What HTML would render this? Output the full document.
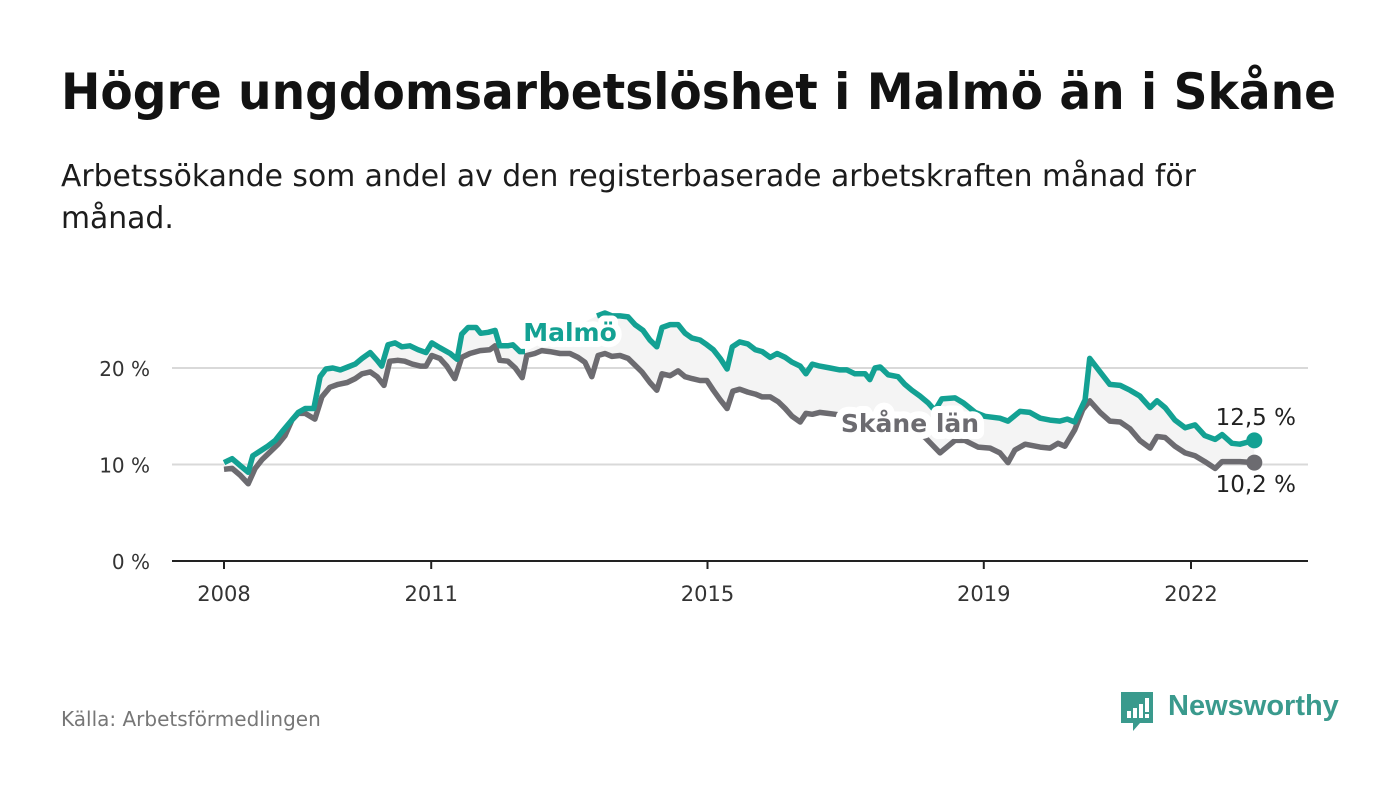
<!DOCTYPE html>
<html><head><meta charset="utf-8">
<style>
body{margin:0;background:#fff;font-family:"DejaVu Sans","Liberation Sans",sans-serif;}
#wrap{position:relative;width:1400px;height:794px;overflow:hidden;background:#fff;}
h1{position:absolute;left:61px;top:63px;margin:0;font-size:50px;font-weight:bold;color:#121212;white-space:nowrap;transform:scaleX(0.942);transform-origin:0 0;}
.sub{position:absolute;left:61px;top:156px;width:1200px;font-size:29.8px;line-height:42px;color:#1c1c1c;}
.src{position:absolute;left:61px;top:707px;font-size:20px;color:#777;}
.logo{position:absolute;left:1118px;top:690px;}
.logo span{position:absolute;left:50px;top:0px;font-family:"Liberation Sans",sans-serif;font-weight:bold;font-size:29px;color:#3a9a8d;white-space:nowrap;}
svg text{font-family:"DejaVu Sans","Liberation Sans",sans-serif;}
</style></head><body>
<div id="wrap">
<h1>Högre ungdomsarbetslöshet i Malmö än i Skåne</h1>
<div class="sub">Arbetssökande som andel av den registerbaserade arbetskraften månad för månad.</div>
<svg id="chart" width="1400" height="794" style="position:absolute;left:0;top:0"></svg>
<div class="src">Källa: Arbetsförmedlingen</div>
<div class="logo">
<svg width="40" height="44"><path d="M3 2 H35 V33 H22 L15 41 L15 33 H3 Z" fill="#3a9a8d"/><rect x="9" y="21" width="4" height="7" fill="#fff"/><rect x="15" y="18" width="4" height="10" fill="#fff"/><rect x="21" y="14" width="4" height="14" fill="#fff"/><rect x="27" y="8" width="4" height="14" fill="#fff"/><rect x="27" y="24" width="4" height="4" fill="#fff"/></svg>
<span>Newsworthy</span></div>
</div>
<script>
const malmoMonths=[0,1.4,2.8,4.2,5,6.3,7.6,8.9,10.1,11.5,12.9,14.1,15.6,16.7,17.7,18.9,20.2,21.5,22.8,24,25.4,26.6,27.4,28.5,29.7,30.9,32.3,33.7,35.1,36.1,37.5,39.3,40.5,41.3,42.4,43.8,44.6,45.9,47.1,47.9,49.3,50.2,51.4,52.3,64.8,66.2,67.4,68.8,70.2,71.4,72.8,74,75.2,76.1,77.5,78.9,80.1,81.3,82.7,83.9,85,86.2,87.4,88.3,89.6,91,92.3,93.5,94.9,96.1,97.5,98.7,100.1,101.1,102.2,103.5,105.3,107,108.2,109.6,111.4,112.2,113.1,114,115.4,117.1,118.3,119.5,120.9,122.3,123.5,124.7,127,128.4,130.5,132.2,134.8,136.2,138.3,140,141.8,143.5,145.2,146.5,147.8,149.6,150.4,152.2,153.9,155.7,157.4,159.1,160.9,162.1,163.5,165.2,167,168.7,170.4,172.2,173.4,175.1,176.5,179];
const malmoValues=[10.2,10.6,9.9,9.2,10.9,11.4,11.9,12.5,13.4,14.4,15.4,15.8,15.8,19.1,19.9,20,19.8,20.1,20.4,21,21.6,20.8,20.2,22.4,22.6,22.2,22.3,21.9,21.6,22.6,22.1,21.5,20.9,23.5,24.2,24.2,23.6,23.7,23.9,22.3,22.3,22.4,21.7,21.7,25.4,25.7,25.4,25.4,25.3,24.5,23.9,22.9,22.2,24.2,24.5,24.5,23.6,23.1,22.9,22.4,21.9,21,19.9,22.2,22.7,22.5,21.9,21.7,21.1,21.5,21.1,20.6,20.2,19.4,20.4,20.2,20,19.8,19.8,19.4,19.4,18.8,20,20.1,19.3,19.1,18.3,17.7,17.1,16.4,15.6,16.8,16.9,16.4,15.4,15,14.8,14.5,15.5,15.4,14.8,14.6,14.5,14.7,14.4,16.7,21,19.6,18.3,18.2,17.7,17.1,15.9,16.6,15.9,14.6,13.8,14.1,13,12.6,13.1,12.2,12.1,12.5];
const skaneMonths=[0,1.4,2.8,4.2,5.4,6.6,8,9.4,10.6,11.8,12.9,14.1,15.8,17,18.4,19.8,21.4,22.8,24,25.4,26.6,27.8,28.8,30.2,31.4,32.7,34.1,35.1,36.1,37.5,38.7,40.1,41.3,42.7,44.5,46.2,47.1,47.9,49.3,50.6,51.8,52.6,54,55.2,56.6,58.4,60.1,61.5,62.7,63.9,65,66.2,67.4,68.8,70.2,71.4,72.6,74,75.2,76.1,77.5,78.9,80.1,81.3,82.7,83.9,85,86.2,87.4,88.4,89.6,91,92.3,93.5,94.9,96.3,97.5,98.7,100.1,101.1,102.2,103.5,104.9,106.2,108.8,112.2,115.7,119.2,121.8,124.4,127,128.7,131,133.1,134.8,136.2,137.4,139.2,141.8,143.5,144.9,146.1,147.8,149.2,150.4,152.2,153.9,155.7,157.4,159.1,160.9,162.1,163.5,165.2,167,168.7,170.4,172.2,173.4,176.5,179];
const skaneValues=[9.5,9.6,8.9,8,9.6,10.5,11.3,12.1,13,14.6,15.3,15.3,14.7,17,18,18.3,18.5,18.9,19.4,19.6,19.1,18.2,20.7,20.8,20.7,20.4,20.2,20.2,21.3,21,20.2,18.9,21.1,21.5,21.8,21.9,22.3,20.8,20.7,20,19,21.3,21.5,21.8,21.7,21.5,21.5,21.1,20.6,19.1,21.3,21.5,21.2,21.3,21,20.3,19.6,18.5,17.7,19.4,19.2,19.7,19.1,18.9,18.7,18.7,17.7,16.7,15.8,17.6,17.8,17.5,17.3,17,17,16.5,15.8,15,14.4,15.3,15.2,15.4,15.3,15.2,15,14.6,14.1,13.8,12.8,11.2,12.5,12.5,11.8,11.7,11.2,10.2,11.5,12.1,11.8,11.7,12.2,11.9,13.6,15.7,16.6,15.4,14.5,14.4,13.7,12.5,11.7,12.9,12.8,11.9,11.2,10.9,10.3,9.6,10.3,10.3,10.2];
const yTicks=[0,10,20];
const xTickYears=[2008,2011,2015,2019,2022];

const NS='http://www.w3.org/2000/svg';
const svg=document.getElementById('chart');
const x0=224, pxPerMonth=967/168, y0=561, pxPerPct=9.65;
const xm=m=>x0+m*pxPerMonth;
const yv=v=>y0-v*pxPerPct;
function mk(tag,attrs){const e=document.createElementNS(NS,tag);for(const k in attrs)e.setAttribute(k,attrs[k]);svg.appendChild(e);return e;}
function pathD(ms,vs){let d='';ms.forEach((m,i)=>{const brk=i===0||ms[i]-ms[i-1]>5;d+=(brk?'M':'L')+xm(m).toFixed(1)+','+yv(vs[i]).toFixed(1);});return d;}

yTicks.forEach(t=>{
  if(t>0){const g=mk('line',{x1:172,x2:1308,y1:yv(t),y2:yv(t),stroke:'#d9d9d9','stroke-width':2});
  
  }
  const tx=mk('text',{x:150,y:yv(t)+8,'text-anchor':'end','font-size':20,fill:'#333'});
  tx.textContent=t+' %';
  
  
});
const ax=mk('line',{x1:172,x2:1308,y1:y0,y2:y0,stroke:'#222','stroke-width':2});


xTickYears.forEach(yr=>{
  const x=xm((yr-2008)*12);
  const tk=mk('line',{x1:x,x2:x,y1:y0,y2:y0+8,stroke:'#222','stroke-width':2});
  
  
  const tx=mk('text',{x:x,y:601,'text-anchor':'middle','font-size':21,fill:'#333'});
  tx.textContent=yr;
  
  
});
const mp=malmoMonths.map((m,i)=>[xm(m),yv(malmoValues[i])]);
const sp=skaneMonths.map((m,i)=>[xm(m),yv(skaneValues[i])]);
const band=mk('polygon',{points:mp.concat(sp.slice().reverse()).map(p=>p.join(',')).join(' '),fill:'#f4f4f4'});


const sl=mk('path',{d:pathD(skaneMonths,skaneValues),fill:'none',stroke:'#6c6b70','stroke-width':5.5,'stroke-linejoin':'round'});


const ml=mk('path',{d:pathD(malmoMonths,malmoValues),fill:'none',stroke:'#13a193','stroke-width':5.5,'stroke-linejoin':'round'});


const ml2=mp[mp.length-1], sl2=sp[sp.length-1];
const d1=mk('circle',{cx:ml2[0],cy:ml2[1],r:8,fill:'#13a193'});


const d2=mk('circle',{cx:sl2[0],cy:sl2[1],r:8,fill:'#6c6b70'});


function lbl(txt,x,y,opt,name){const t=mk('text',Object.assign({x:x,y:y},opt));t.textContent=txt;
  
  return t;}
lbl('Malmö',570,341,{'text-anchor':'middle','font-size':25,'font-weight':'bold',fill:'#13a193',stroke:'#fff','stroke-width':12,'stroke-linejoin':'round','paint-order':'stroke'},'malmo-label');
lbl('Skåne län',910,432,{'text-anchor':'middle','font-size':25,'font-weight':'bold',fill:'#6c6b70',stroke:'#fff','stroke-width':14,'stroke-linejoin':'round','paint-order':'stroke'},'skane-label');
lbl(String(malmoValues[malmoValues.length-1]).replace('.',',')+' %',1296,425,{'text-anchor':'end','font-size':23,fill:'#222'},'malmo-end-value');
lbl(String(skaneValues[skaneValues.length-1]).replace('.',',')+' %',1296,492,{'text-anchor':'end','font-size':23,fill:'#222'},'skane-end-value');
</script>
</body></html>
